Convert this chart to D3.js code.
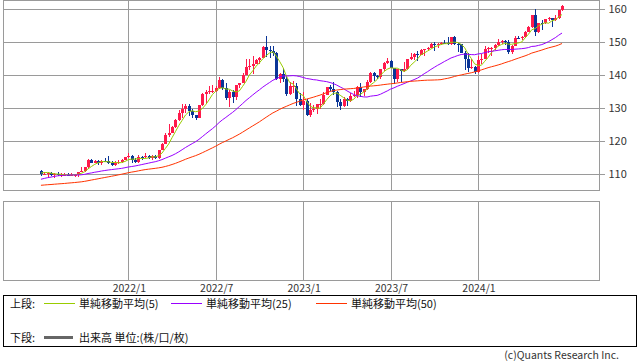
<!DOCTYPE html>
<html>
<head>
<meta charset="utf-8">
<script src="https://cdn.jsdelivr.net/npm/d3@7"></script>
<style>
body { margin: 0; background: #fff; }
svg { display: block; font-family: "Noto Sans CJK JP", "Noto Sans", sans-serif; }
</style>
</head>
<body>
<div id="chart"></div>
<script>
/** weekly candles, first one starts at firstWeek **/
const firstWeek = "2021-07-05";
const opens = [
  111.0,110.1,110.1,110.5,109.7,110.2,109.6,109.8,109.9,109.7,
  109.9,109.9,110.7,111.0,112.2,114.2,113.5,114.0,113.4,114.1,
  114.0,113.4,112.8,113.4,113.7,114.3,115.1,115.5,114.2,113.7,
  115.3,115.2,115.4,115.0,115.6,114.8,117.3,119.2,122.0,122.5,
  124.3,126.4,128.5,129.9,130.6,129.2,127.9,127.1,130.9,134.4,
  135.0,135.2,135.2,136.1,138.5,136.1,133.2,135.0,133.4,137.0,
  137.6,140.2,142.6,142.9,143.4,144.7,145.3,148.7,147.7,147.4,
  146.6,138.8,140.4,138.8,134.3,136.6,136.7,132.9,131.1,132.1,
  127.9,129.6,129.9,131.2,131.4,134.1,136.4,135.8,134.9,131.9,
  130.7,132.8,132.1,133.7,134.1,136.3,134.8,135.7,137.9,140.6,
  139.9,139.4,141.8,143.7,144.3,142.1,138.8,141.8,141.2,141.8,
  144.9,145.4,146.4,146.2,147.8,147.9,148.4,149.4,149.3,149.6,
  149.9,149.7,149.4,151.5,149.6,149.4,146.8,144.9,142.1,142.4,
  141.0,144.6,145.0,148.1,148.2,148.4,149.3,150.2,150.5,150.1,
  147.1,149.0,151.4,151.3,151.6,153.2,154.6,158.3,153.0,155.8,
  155.7,157.0,157.3,156.7,157.4,159.8
];
const highs = [
  111.2,110.7,110.6,110.6,110.4,110.8,110.3,110.4,110.4,110.4,
  110.2,110.8,112.1,112.3,114.5,114.7,114.3,114.4,114.3,114.9,
  115.5,113.9,113.9,114.3,114.5,115.2,116.3,115.8,114.9,115.7,
  115.5,116.3,115.7,115.8,115.8,117.4,119.4,122.4,125.1,124.7,
  126.7,129.4,131.3,131.3,131.3,129.8,128.0,130.9,134.6,135.6,
  136.7,137.0,136.6,139.4,138.9,137.5,135.5,135.6,137.1,137.7,
  140.8,145.0,144.9,145.9,144.9,145.4,148.9,151.9,149.0,148.8,
  147.0,140.8,142.3,139.9,137.9,138.2,137.5,134.5,134.8,132.9,
  131.6,131.0,131.3,132.9,134.8,136.5,136.9,137.9,135.2,132.7,
  133.4,133.0,134.5,135.1,136.6,137.8,135.8,138.7,140.9,140.9,
  140.2,141.9,143.9,145.1,144.7,142.2,142.0,142.0,143.9,145.0,
  146.6,146.6,147.4,147.9,148.1,148.5,149.7,150.2,149.8,150.2,
  150.8,151.7,151.6,151.9,149.8,149.5,147.4,146.6,144.9,142.8,
  145.9,146.4,148.8,148.7,148.6,149.6,150.9,150.8,150.8,150.6,
  149.2,151.9,151.9,151.9,153.4,154.8,158.4,160.2,155.9,156.8,
  157.2,157.7,157.5,158.3,159.9,161.3
];
const lows = [
  109.5,109.7,109.1,109.4,108.7,109.5,109.1,109.6,109.6,109.6,
  109.1,109.1,110.6,110.8,112.0,113.4,113.3,112.7,112.7,113.6,
  113.1,112.6,112.5,113.1,113.5,114.2,115.0,113.5,113.5,113.5,
  114.2,115.0,114.5,114.4,114.7,114.7,117.2,119.0,121.3,122.4,
  124.1,126.2,126.9,128.6,127.5,126.9,126.4,127.0,130.6,131.5,
  134.3,134.5,134.8,135.9,135.6,132.5,130.4,131.7,132.6,136.2,
  137.5,140.0,141.7,140.3,143.3,143.5,145.2,145.5,145.1,145.7,
  138.5,137.7,138.1,133.6,134.1,134.7,130.6,130.8,129.5,127.5,
  127.2,129.0,128.1,129.8,131.0,134.0,135.3,134.1,130.5,129.6,
  130.4,130.6,131.8,133.5,133.0,133.5,133.7,135.5,137.7,138.4,
  138.8,138.8,141.4,143.5,142.1,137.2,138.0,138.1,141.0,141.7,
  144.7,144.6,144.4,146.0,145.9,147.3,148.2,147.3,148.2,149.3,
  149.7,149.2,149.3,149.2,147.2,146.6,141.6,140.9,141.9,140.3,
  140.8,143.4,144.9,146.6,145.9,147.6,148.8,149.6,149.2,146.5,
  146.5,148.9,151.0,150.8,151.4,153.0,154.4,151.9,152.8,153.6,
  155.5,156.4,154.6,156.5,157.1,159.6
];
const closes = [
  110.1,110.1,110.5,109.7,110.2,109.6,109.8,109.8,109.7,109.9,
  109.9,110.7,111.0,112.2,114.2,113.5,114.0,113.4,114.1,114.0,
  113.4,112.8,113.4,113.7,114.3,115.1,115.5,114.2,113.7,115.3,
  115.2,115.4,115.0,115.6,114.8,117.3,119.2,122.0,122.5,124.3,
  126.4,128.5,129.9,130.6,129.2,127.9,127.1,130.9,134.4,135.0,
  135.2,135.2,136.1,138.5,136.1,133.2,135.0,133.4,137.0,137.6,
  140.2,142.6,142.9,143.4,144.7,145.3,148.7,147.7,147.4,146.6,
  138.8,140.4,138.8,134.3,136.6,136.7,132.9,131.1,132.1,127.9,
  129.6,129.9,131.2,131.4,134.1,136.4,135.8,134.9,131.9,130.7,
  132.8,132.1,133.7,134.1,136.3,134.8,135.7,137.9,140.6,139.9,
  139.4,141.8,143.7,144.3,142.1,138.8,141.8,141.2,141.8,144.9,
  145.4,146.4,146.2,147.8,147.9,148.4,149.4,149.3,149.6,149.9,
  149.7,149.4,151.5,149.6,149.4,146.8,144.9,142.1,142.4,141.0,
  144.6,145.0,148.1,148.2,148.4,149.3,150.2,150.5,150.1,147.1,
  149.0,151.4,151.3,151.6,153.2,154.6,158.3,153.0,155.8,155.7,
  157.0,157.3,156.7,157.4,159.8,160.9
];
// weekly closes before the visible window (only feed the moving averages)
const priorCloses = [
  105.9,105.9,106.6,105.8,105.4,106.2,106.1,104.6,105.6,105.3,
  105.6,105.4,104.7,104.7,103.4,104.6,103.9,104.1,104.2,104.0,
  103.3,103.6,103.2,103.9,103.9,103.8,104.7,105.4,104.9,105.4,
  106.6,108.3,109.0,108.9,109.7,110.6,109.7,108.8,107.9,109.3,
  108.6,109.4,108.9,110.2,109.5,109.7,110.2,110.8,111.1
];

const maPeriods = [5, 25, 50];
const maColors = ["#99cc00", "#9900ff", "#ff3300"];
const maLabels = ["単純移動平均(5)", "単純移動平均(25)", "単純移動平均(50)"];
const priceTicks = [110, 120, 130, 140, 150, 160];
const dateTicks = ["2022-01-03", "2022-07-04", "2023-01-02", "2023-07-03", "2024-01-01"];
const dateLabels = ["2022/1", "2022/7", "2023/1", "2023/7", "2024/1"];

const upColor = "#ff1a4b";
const downColor = "#0a3597";
const gridColor = "#9a9a9a";

const width = 638;
const height = 362;
const plot = { left: 3, right: 599, top: 0, bottom: 190 };
const vol = { top: 201, bottom: 280 };

const parse = d3.timeParse("%Y-%m-%d");
const weeks = closes.map((c, i) => d3.timeDay.offset(parse(firstWeek), 7 * i));

const x = d3.scaleTime()
    .domain([parse("2021-04-17"), parse("2024-09-09")])
    .range([plot.left, plot.right]);

const y = d3.scaleLinear()
    .domain([105.2, 162.82])
    .range([plot.bottom, plot.top]);

const svg = d3.select("#chart")
    .append("svg")
    .attr("width", width)
    .attr("height", height);

svg.append("defs").append("clipPath")
    .attr("id", "plotClip")
    .append("rect")
    .attr("x", plot.left)
    .attr("y", plot.top)
    .attr("width", plot.right - plot.left)
    .attr("height", plot.bottom - plot.top);

// grid: horizontal in the price panel, vertical in both panels
const grid = svg.append("g")
    .attr("stroke", gridColor)
    .attr("stroke-width", 1)
    .attr("shape-rendering", "crispEdges");

grid.selectAll("line.h")
    .data(priceTicks)
    .join("line")
    .attr("class", "h")
    .attr("x1", plot.left)
    .attr("x2", plot.right)
    .attr("y1", d => Math.round(y(d)) + 0.5)
    .attr("y2", d => Math.round(y(d)) + 0.5);

dateTicks.forEach(t => {
    const xp = Math.round(x(parse(t))) + 0.5;
    grid.append("line")
        .attr("x1", xp).attr("x2", xp)
        .attr("y1", plot.top).attr("y2", plot.bottom);
    grid.append("line")
        .attr("x1", xp).attr("x2", xp)
        .attr("y1", vol.top).attr("y2", vol.bottom);
});

// candles
const candles = svg.append("g")
    .attr("clip-path", "url(#plotClip)")
    .attr("shape-rendering", "crispEdges");

const candle = candles.selectAll("g")
    .data(closes.map((c, i) => ({ date: weeks[i], o: opens[i], h: highs[i], l: lows[i], c: c })))
    .join("g");

candle.append("line")
    .attr("x1", d => Math.round(x(d.date)) + 0.5)
    .attr("x2", d => Math.round(x(d.date)) + 0.5)
    .attr("y1", d => y(d.h))
    .attr("y2", d => y(d.l))
    .attr("stroke", d => d.c >= d.o ? upColor : downColor);

candle.append("rect")
    .attr("x", d => Math.round(x(d.date)) - 1)
    .attr("width", 3)
    .attr("y", d => y(Math.max(d.o, d.c)))
    .attr("height", d => Math.max(1, Math.abs(y(d.o) - y(d.c))))
    .attr("fill", d => d.c >= d.o ? upColor : downColor);

// simple moving averages over prior + visible closes
const allCloses = priorCloses.concat(closes);
function sma(period) {
    return closes.map((c, i) => {
        const end = priorCloses.length + i + 1;
        return d3.mean(allCloses.slice(Math.max(0, end - period), end));
    });
}

const line = d3.line()
    .x(d => x(d.date))
    .y(d => y(d.v));

maPeriods.forEach((p, k) => {
    const values = sma(p).map((v, i) => ({ date: weeks[i], v: v }));
    svg.append("path")
        .datum(values)
        .attr("clip-path", "url(#plotClip)")
        .attr("fill", "none")
        .attr("stroke", maColors[k])
        .attr("stroke-width", 1)
        .attr("d", line);
});

// panel frames
svg.append("rect")
    .attr("x", plot.left + 0.5).attr("y", plot.top + 0.5)
    .attr("width", plot.right - plot.left).attr("height", plot.bottom - plot.top)
    .attr("fill", "none").attr("stroke", gridColor)
    .attr("shape-rendering", "crispEdges");

svg.append("rect")
    .attr("x", plot.left + 0.5).attr("y", vol.top + 0.5)
    .attr("width", plot.right - plot.left).attr("height", vol.bottom - vol.top)
    .attr("fill", "none").attr("stroke", gridColor)
    .attr("shape-rendering", "crispEdges");

// price axis on the right
const yAxis = svg.append("g")
    .attr("transform", `translate(${plot.right + 0.5},0)`)
    .call(d3.axisRight(y).tickValues(priceTicks).tickSize(5).tickPadding(4));
yAxis.select(".domain").remove();
yAxis.selectAll(".tick line").attr("stroke", gridColor).attr("shape-rendering", "crispEdges");
yAxis.selectAll(".tick text")
    .attr("fill", "#333")
    .style("font-size", "11px")
    .style("font-family", "\"Noto Sans CJK JP\", sans-serif");

// date labels under the lower panel
svg.append("g")
    .selectAll("text")
    .data(dateTicks)
    .join("text")
    .attr("x", d => x(parse(d)) + 1)
    .attr("y", 287.5)
    .attr("text-anchor", "middle")
    .attr("dominant-baseline", "central")
    .attr("font-size", 10.5)
    .attr("fill", "#333")
    .text((d, i) => dateLabels[i]);

// legend
const legend = svg.append("g").attr("font-size", 11).attr("fill", "#111");
legend.append("rect")
    .attr("x", 3.5).attr("y", 295.5)
    .attr("width", 633).attr("height", 51)
    .attr("fill", "none").attr("stroke", "#000")
    .attr("shape-rendering", "crispEdges");

legend.append("text").attr("x", 10).attr("y", 303).attr("dominant-baseline", "central").text("上段:");
const legendX = [44, 171, 316];
maLabels.forEach((label, k) => {
    legend.append("line")
        .attr("x1", legendX[k]).attr("x2", legendX[k] + 31)
        .attr("y1", 303.5).attr("y2", 303.5)
        .attr("stroke", maColors[k]);
    legend.append("text")
        .attr("x", legendX[k] + 35).attr("y", 303)
        .attr("dominant-baseline", "central")
        .text(label);
});

legend.append("text").attr("x", 10).attr("y", 337).attr("dominant-baseline", "central").text("下段:");
legend.append("line")
    .attr("x1", 44).attr("x2", 73)
    .attr("y1", 337.5).attr("y2", 337.5)
    .attr("stroke", "#666").attr("stroke-width", 3);
legend.append("text")
    .attr("x", 79).attr("y", 337)
    .attr("dominant-baseline", "central")
    .text("出来高 単位:(株/口/枚)");

svg.append("text")
    .attr("x", 619).attr("y", 354.5)
    .attr("text-anchor", "end")
    .attr("dominant-baseline", "central")
    .attr("font-size", 10.5)
    .attr("fill", "#333")
    .text("(c)Quants Research Inc.");
</script>
</body>
</html>
